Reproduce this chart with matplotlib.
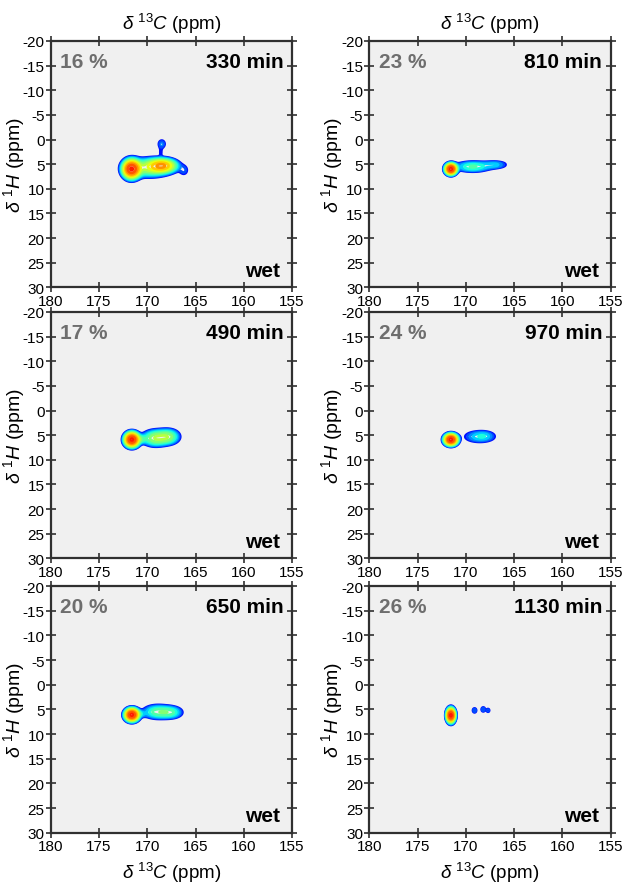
"""2D 13C-1H correlation spectra over time, six panels (wet sample)."""

import numpy as np
import matplotlib
matplotlib.use("Agg")
import matplotlib.pyplot as plt

plt.rcParams["font.family"] = ["Liberation Sans", "DejaVu Sans"]
plt.rcParams["mathtext.fontset"] = "custom"
plt.rcParams["mathtext.rm"] = "Liberation Sans"
plt.rcParams["mathtext.it"] = "Liberation Sans:italic"
plt.rcParams["axes.unicode_minus"] = False

# ── Panel annotations ───────────────────────────────────────────────────
percents = ["16 %", "23 %", "17 %", "24 %", "20 %", "26 %"]
times = ["330 min", "810 min", "490 min", "970 min", "650 min", "1130 min"]

# ── Peak parameters: (13C, 1H, width C, width H, amp)
peaks_330 = [(171.65, 6.0, 0.50, 1.05, 1.00),
             (169.8, 5.7, 1.30, 1.10, 0.30),
             (168.4, 5.3, 0.85, 0.75, 0.55),
             (168.5, 0.9, 0.30, 0.70, 0.09),
             (168.6, 2.6, 0.15, 0.70, 0.05),
             (166.2, 6.3, 0.35, 0.80, 0.07)]
peaks_810 = [(171.55, 6.0, 0.32, 0.60, 1.00),
             (169.3, 5.5, 1.15, 0.65, 0.18),
             (166.9, 5.1, 0.85, 0.50, 0.10)]
peaks_490 = [(171.6, 5.9, 0.42, 0.80, 1.00),
             (169.2, 5.6, 0.80, 0.95, 0.26),
             (167.8, 5.3, 0.70, 0.90, 0.22),
             (170.6, 5.8, 0.35, 0.45, 0.10)]
peaks_970 = [(171.55, 5.9, 0.38, 0.62, 1.00),
             (168.6, 5.3, 1.10, 0.80, 0.12),
             (168.0, 5.1, 0.60, 0.55, 0.03)]
peaks_650 = [(171.6, 6.1, 0.40, 0.70, 1.00),
             (169.0, 5.5, 0.90, 0.85, 0.19),
             (167.5, 5.6, 0.75, 0.75, 0.15),
             (170.6, 5.9, 0.35, 0.40, 0.06)]
peaks_1130 = [(171.55, 6.2, 0.24, 0.80, 1.00),
              (169.1, 5.2, 0.17, 0.42, 0.08),
              (168.2, 5.0, 0.17, 0.42, 0.08),
              (167.7, 5.2, 0.14, 0.34, 0.07)]
panel_peaks = [peaks_330, peaks_810, peaks_490, peaks_970, peaks_650, peaks_1130]

c_ticks = [180, 175, 170, 165, 160, 155]
h_ticks = [-20, -15, -10, -5, 0, 5, 10, 15, 20, 25, 30]

BG = "#f0f0f0"
FRAME = "#303030"
GRAY_TXT = "#6e6e6e"

# contour levels relative to the tallest peak of each panel
L0 = 0.05
N_LEV = 13
levels = L0 * (0.97 / L0) ** (np.arange(N_LEV) / (N_LEV - 1))
cmap = plt.get_cmap("jet")
level_colors = [cmap(0.14 + 0.74 * i / (N_LEV - 1)) for i in range(N_LEV)]

cx = np.linspace(155, 180, 500)
hy = np.linspace(-20, 30, 500)
CX, HY = np.meshgrid(cx, hy)


def spectrum(peaks):
    z = np.zeros_like(CX)
    for c0, h0, sc, sh, amp in peaks:
        z += amp * np.exp(-0.5 * (((CX - c0) / sc) ** 2 + ((HY - h0) / sh) ** 2))
    return z / z.max()


fig = plt.figure(figsize=(6.27, 8.95), dpi=100)

col_x = [0.0809, 0.589]
row_y = [0.6777, 0.3749, 0.0685]
W, H = 0.385, 0.2755

for i in range(6):
    r, c = divmod(i, 2)
    ax = fig.add_axes([col_x[c], row_y[r], W, H])
    ax.set_facecolor(BG)
    z = spectrum(panel_peaks[i])
    ax.contour(CX, HY, z, levels=levels, colors=level_colors, linewidths=1.9)

    ax.set_xlim(180, 155)
    ax.set_ylim(30, -20)
    ax.set_xticks(c_ticks)
    ax.set_yticks(h_ticks)
    ax.tick_params(direction="inout", length=7, width=1.2, colors=FRAME,
                   labelsize=11, labelcolor="black", pad=1,
                   top=True, right=True)
    for sp in ax.spines.values():
        sp.set_linewidth(1.6)
        sp.set_color(FRAME)

    ax.set_ylabel(r"$\delta$ $^{1}H$ (ppm)", fontsize=14)
    ax.yaxis.set_label_coords(-0.10, 0.5)
    if r == 0:
        ax.set_xlabel(r"$\delta$ $^{13}C$ (ppm)", fontsize=13.5, labelpad=5)
        ax.xaxis.set_label_position("top")
    elif r == 2:
        ax.set_xlabel(r"$\delta$ $^{13}C$ (ppm)", fontsize=13.5, labelpad=5)

    ax.text(0.04, 0.918, percents[i], transform=ax.transAxes, ha="left",
            va="center", fontsize=15, weight="bold", color=GRAY_TXT)
    ax.text(0.965, 0.918, times[i], transform=ax.transAxes, ha="right",
            va="center", fontsize=15, weight="bold", color="black")
    ax.text(0.952, 0.07, "wet", transform=ax.transAxes, ha="right",
            va="center", fontsize=15, weight="bold", color="black")

fig.savefig("out.png", dpi=100)
